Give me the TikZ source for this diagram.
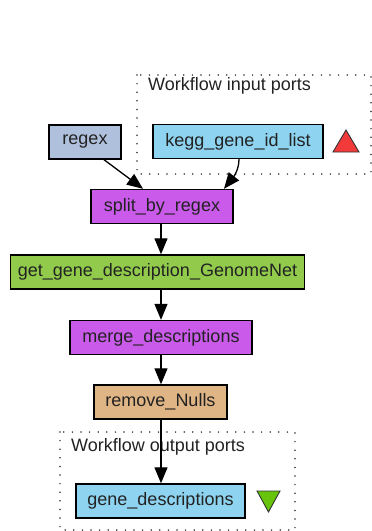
\documentclass[tikz,border=0pt]{standalone}
\usepackage{fontspec}
\setmainfont{Liberation Sans}
\usetikzlibrary{arrows.meta}
\definecolor{txt}{HTML}{222222}
\definecolor{regexc}{HTML}{AFC0DC}
\definecolor{portc}{HTML}{8ED4F0}
\definecolor{beanc}{HTML}{C95AEA}
\definecolor{wsc}{HTML}{92CB4C}
\definecolor{localc}{HTML}{E0B585}
\definecolor{inputtri}{HTML}{F23A3A}
\definecolor{outputtri}{HTML}{66C40C}
\tikzset{
  proc/.style={draw=black, line width=1.4pt, rectangle, minimum height=34pt,
    inner sep=0pt, font=\fontsize{18}{21}\selectfont, text=txt},
  portgroup/.style={draw=black!80, line width=1.7pt, line cap=round,
    dash pattern=on 0pt off 8.6pt},
  grouplabel/.style={anchor=west, inner sep=0pt, font=\fontsize{18}{21}\selectfont, text=txt},
  flow/.style={draw=black, line width=1.3pt,
    -{Triangle[width=13pt,length=16pt]}, shorten >=0pt},
  tri/.style={draw=black!80, line width=0.9pt, line join=miter}
}
\begin{document}
\begin{tikzpicture}[x=1pt, y=-1pt]
  \useasboundingbox (0,0) rectangle (372,531);

  % workflow input ports group
  \draw[portgroup] (137,75) rectangle (371,174);
  \node[grouplabel] (inlabel) at (148,86) {Workflow input ports};

  % workflow output ports group
  \draw[portgroup] (60,432) rectangle (295,530);
  \node[grouplabel] (outlabel) at (71,447) {Workflow output ports};

  % processors
  \node[proc, fill=regexc, minimum width=72pt] (regex) at (85,142) {regex};
  \node[proc, fill=portc, minimum width=170pt] (kegg) at (238,141.5) {kegg\_gene\_id\_list};
  \node[proc, fill=beanc, minimum width=142pt] (split) at (162,206.5) {split\_by\_regex};
  \node[proc, fill=wsc, minimum width=294pt] (get) at (157.5,272) {get\_gene\_description\_GenomeNet};
  \node[proc, fill=beanc, minimum width=182pt] (merge) at (161,337.5) {merge\_descriptions};
  \node[proc, fill=localc, minimum width=133pt] (remove) at (160.5,402) {remove\_Nulls};
  \node[proc, fill=portc, minimum width=169pt] (genedesc) at (160.5,501) {gene\_descriptions};

  % port markers
  \coordinate (inmark) at (346,141);
  \draw[tri, fill=inputtri] (333,152) -- (346,130) -- (359,152) -- cycle;
  \coordinate (outmark) at (268.5,501);
  \draw[tri, fill=outputtri] (257,491) -- (280,491) -- (268.5,512) -- cycle;

  % data links
  \draw[flow] (regex.south -| 104,0) -- (split.north -| 143,0);
  \draw[flow] (kegg.south -| 239,0) .. controls (239,172) and (231,180) .. (split.north -| 224,0);
  \draw[flow] (split.south -| 161,0) -- (get.north -| 161,0);
  \draw[flow] (get.south -| 161,0) -- (merge.north -| 161,0);
  \draw[flow] (merge.south -| 161,0) -- (remove.north -| 161,0);
  \draw[flow] (remove.south -| 161,0) -- (genedesc.north -| 161,0);
\end{tikzpicture}
\end{document}
